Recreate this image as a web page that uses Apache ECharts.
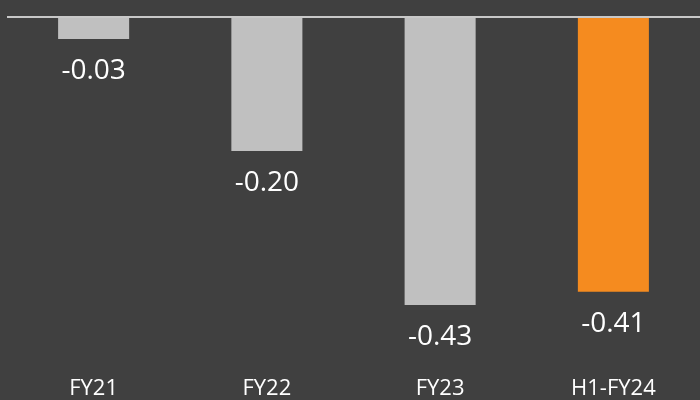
<!DOCTYPE html>
<html>
<head>
<meta charset="utf-8">
<script src="https://cdn.jsdelivr.net/npm/echarts@6/dist/echarts.min.js"></script>
<style>
  html, body { margin: 0; padding: 0; background: #404040; }
  #chart { width: 700px; height: 400px; }
</style>
</head>
<body>
<div id="chart"></div>
<script>
const categories = ['FY21', 'FY22', 'FY23', 'H1-FY24']
const values = [-0.033, -0.20, -0.43, -0.41]
const barColors = ['#c0c0c0', '#c0c0c0', '#c0c0c0', '#f58b1f']

const chart = echarts.init(document.getElementById('chart'))

const seriesData = values.map((v, i) => ({
  value: v,
  itemStyle: { color: barColors[i] },
}))

chart.setOption({
  backgroundColor: '#404040',
  animation: false,
  grid: { left: 7, right: -3, top: 17, bottom: 48 },
  xAxis: {
    type: 'category',
    data: categories,
    axisLine: { show: false, onZero: false },
    axisTick: { show: false },
    axisLabel: { color: '#ffffff', fontSize: 22, fontFamily: 'Open Sans', margin: 26 },
  },
  yAxis: {
    type: 'value',
    min: -0.5,
    max: 0,
    show: false,
  },
  series: [
    {
      type: 'bar',
      data: seriesData,
      barWidth: '41%',
      label: {
        show: true,
        position: 'bottom',
        distance: 18,
        color: '#ffffff',
        fontSize: 28,
        fontFamily: 'Open Sans',
        formatter: (p) => p.value.toFixed(2),
      },
      markLine: {
        silent: true,
        symbol: 'none',
        label: { show: false },
        lineStyle: { color: '#c8c8c8', width: 2, type: 'solid' },
        data: [{ yAxis: 0 }],
      },
    },
  ],
})
</script>
</body>
</html>
